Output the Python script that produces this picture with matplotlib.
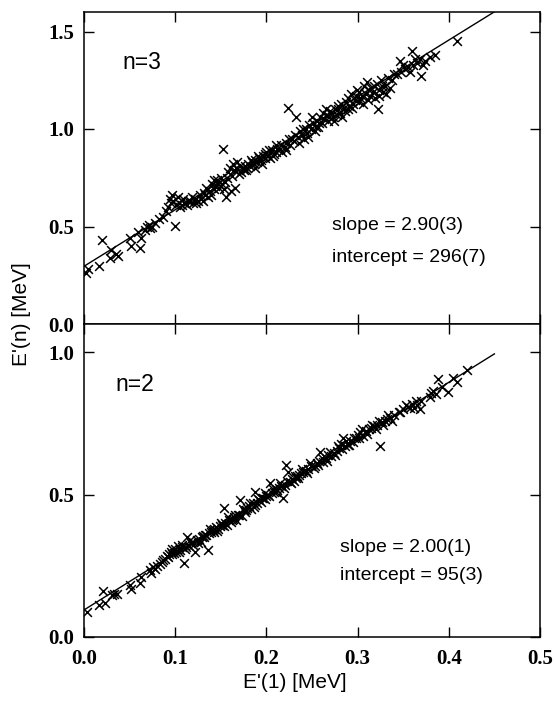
import matplotlib
matplotlib.use("Agg")
import matplotlib.pyplot as plt
import numpy as np

# ---- data ----
top_x = [0.002,0.004,0.016,0.020,0.028,0.030,0.035,0.037,0.050,0.051,0.059,0.061,0.062,0.067,0.069,0.071,0.072,0.075,
         0.078,0.082,0.087,0.090,0.092,0.094,0.095,0.096,0.098,0.100,0.101,0.103,0.105,0.108,0.110,0.113,0.116,0.119,
         0.122,0.125,0.127,0.130,0.132,0.134,0.136,0.138,0.140,0.142,0.144,0.146,0.148,0.150,0.152,0.153,0.155,0.156,
         0.158,0.160,0.161,0.163,0.165,0.166,0.168,0.170,0.172,0.174,0.176,0.178,0.180,0.182,0.184,0.186,0.188,0.190,
         0.192,0.194,0.196,0.198,0.200,0.202,0.204,0.206,0.208,0.210,0.212,0.215,0.217,0.220,0.222,0.224,0.226,0.228,
         0.230,0.233,0.235,0.237,0.239,0.241,0.243,0.245,0.247,0.249,0.251,0.253,0.255,0.257,0.259,0.261,0.263,0.265,
         0.267,0.269,0.271,0.273,0.275,0.277,0.279,0.281,0.283,0.285,0.287,0.289,0.291,0.293,0.295,0.297,0.299,0.301,
         0.303,0.305,0.307,0.309,0.311,0.313,0.315,0.317,0.319,0.321,0.322,0.324,0.326,0.328,0.330,0.333,0.336,0.340,
         0.346,0.348,0.352,0.355,0.360,0.361,0.365,0.368,0.370,0.374,0.379,0.409,
         0.104,0.109,0.114,0.118,0.123,0.128,0.133,0.139,0.143,0.147,0.151,0.157,0.162,0.167,0.171,0.175,0.179,0.183,
         0.187,0.191,0.195,0.199,0.203,0.207,0.211,0.216,0.221,0.225,0.231,0.236,0.240,0.246,0.250,0.254,0.258,0.262,
         0.266,0.270,0.274,0.278,0.282,0.286,0.290,0.294,0.298,0.302,0.306,0.310,0.314,0.318,0.323,0.327,0.331,0.338,
         0.343,0.350,0.357,0.363,0.372,0.385]
top_y = [0.26,0.28,0.30,0.43,0.34,0.38,0.36,0.35,0.44,0.40,0.47,0.39,0.44,0.48,0.50,0.51,0.49,0.50,
         0.52,0.54,0.55,0.58,0.60,0.64,0.62,0.66,0.63,0.505,0.61,0.65,0.60,0.61,0.62,0.61,0.63,0.62,
         0.64,0.63,0.66,0.63,0.67,0.70,0.65,0.68,0.72,0.69,0.71,0.74,0.70,0.75,0.90,0.69,0.73,0.65,
         0.78,0.80,0.68,0.82,0.79,0.70,0.83,0.77,0.78,0.80,0.81,0.79,0.82,0.81,0.83,0.82,0.84,0.83,
         0.85,0.84,0.86,0.85,0.88,0.86,0.85,0.89,0.87,0.88,0.90,0.90,0.88,0.91,0.93,1.11,0.92,0.95,
         0.94,1.06,0.96,0.99,0.97,0.95,1.00,0.98,1.02,1.00,1.03,0.99,1.04,1.01,1.06,1.03,1.05,1.10,
         1.04,1.06,1.08,1.06,1.10,1.07,1.12,1.08,1.06,1.11,1.14,1.10,1.12,1.18,1.13,1.15,1.20,1.14,
         1.16,1.17,1.22,1.18,1.15,1.20,1.21,1.19,1.16,1.23,1.10,1.17,1.25,1.19,1.22,1.26,1.21,1.28,
         1.35,1.29,1.31,1.32,1.40,1.33,1.34,1.36,1.27,1.35,1.37,1.45,
         0.62,0.64,0.63,0.65,0.62,0.64,0.66,0.66,0.74,0.72,0.72,0.75,0.76,0.80,0.81,0.79,0.80,0.84,
         0.80,0.86,0.82,0.87,0.89,0.86,0.92,0.92,0.89,0.95,0.97,0.93,1.00,0.96,1.06,1.01,1.03,1.08,
         1.07,1.09,1.04,1.10,1.13,1.09,1.16,1.11,1.17,1.19,1.13,1.24,1.17,1.22,1.20,1.22,1.18,1.25,
         1.28,1.33,1.29,1.36,1.33,1.38]

bot_x = [0.003,0.016,0.021,0.023,0.031,0.033,0.036,0.050,0.052,0.061,0.063,0.072,0.074,0.076,0.078,0.080,0.083,0.087,
         0.089,0.091,0.093,0.095,0.097,0.099,0.101,0.103,0.105,0.107,0.110,0.111,0.113,0.115,0.117,0.119,0.122,0.124,
         0.126,0.128,0.130,0.132,0.134,0.136,0.137,0.139,0.141,0.143,0.145,0.147,0.149,0.151,0.153,0.155,0.157,0.159,
         0.161,0.163,0.165,0.167,0.169,0.171,0.173,0.175,0.177,0.179,0.181,0.183,0.185,0.187,0.188,0.190,0.192,0.194,
         0.196,0.198,0.200,0.202,0.204,0.206,0.208,0.210,0.212,0.214,0.216,0.218,0.220,0.222,0.224,0.226,0.228,0.230,
         0.232,0.234,0.236,0.238,0.240,0.243,0.246,0.249,0.252,0.255,0.258,0.259,0.262,0.265,0.268,0.271,0.274,0.277,
         0.280,0.282,0.284,0.286,0.289,0.292,0.295,0.298,0.300,0.303,0.306,0.309,0.312,0.315,0.318,0.321,0.325,0.327,
         0.330,0.332,0.335,0.338,0.345,0.350,0.355,0.360,0.362,0.365,0.368,0.379,0.383,0.386,0.388,0.399,0.405,0.409,
         0.420,
         0.085,0.092,0.096,0.100,0.104,0.108,0.112,0.116,0.120,0.125,0.129,0.133,0.138,0.142,0.146,0.150,0.154,0.158,
         0.162,0.166,0.170,0.174,0.178,0.182,0.186,0.191,0.195,0.199,0.203,0.207,0.211,0.215,0.219,0.223,0.227,0.231,
         0.235,0.239,0.244,0.248,0.253,0.257,0.261,0.266,0.270,0.275,0.279,0.283,0.287,0.291,0.296,0.301,0.305,0.310,
         0.316,0.320,0.324,0.328,0.333,0.340,0.347,0.353,0.358,0.364,0.370,0.381,0.393]
bot_y = [0.088,0.113,0.160,0.120,0.148,0.150,0.152,0.183,0.170,0.190,0.210,0.236,0.225,0.245,0.240,0.250,0.258,0.270,
         0.275,0.285,0.290,0.300,0.310,0.295,0.300,0.320,0.305,0.315,0.260,0.310,0.350,0.320,0.330,0.325,0.300,0.340,
         0.345,0.335,0.355,0.350,0.360,0.306,0.365,0.370,0.375,0.370,0.385,0.380,0.390,0.395,0.455,0.400,0.395,0.410,
         0.405,0.415,0.420,0.410,0.430,0.480,0.425,0.445,0.440,0.455,0.460,0.450,0.470,0.465,0.510,0.470,0.480,0.475,
         0.490,0.485,0.495,0.500,0.540,0.505,0.510,0.520,0.515,0.525,0.530,0.490,0.535,0.605,0.580,0.545,0.555,0.550,
         0.560,0.565,0.570,0.575,0.580,0.585,0.590,0.600,0.595,0.610,0.620,0.650,0.615,0.630,0.640,0.635,0.645,0.655,
         0.665,0.680,0.700,0.670,0.675,0.690,0.685,0.700,0.710,0.720,0.705,0.725,0.730,0.735,0.740,0.745,0.670,0.755,
         0.760,0.765,0.770,0.760,0.790,0.800,0.810,0.820,0.805,0.815,0.800,0.845,0.865,0.855,0.905,0.860,0.910,0.895,
         0.940,
         0.262,0.280,0.290,0.310,0.300,0.325,0.318,0.340,0.335,0.330,0.350,0.360,0.380,0.380,0.372,0.400,0.390,0.420,
         0.412,0.430,0.428,0.450,0.445,0.470,0.458,0.485,0.490,0.505,0.495,0.520,0.510,0.540,0.525,0.550,0.540,0.565,
         0.560,0.590,0.575,0.610,0.600,0.605,0.630,0.620,0.650,0.640,0.670,0.660,0.690,0.675,0.700,0.700,0.730,0.715,
         0.745,0.730,0.760,0.745,0.780,0.780,0.790,0.815,0.805,0.830,0.830,0.858,0.880]

top_slope, top_intercept = 2.90, 0.296
bot_slope, bot_intercept = 2.00, 0.095
fit_range = [0.0, 0.45]

top_text = ["slope = 2.90(3)", "intercept = 296(7)"]
bot_text = ["slope = 2.00(1)", "intercept = 95(3)"]

# ---- figure ----
W, H = 555, 704
fig = plt.figure(figsize=(W/100, H/100), dpi=100)
L, R = 84/W, 540/W
y_top, y_mid, y_bot = 1-12/H, 1-324/H, 1-637/H
ax1 = fig.add_axes([L, y_mid, R-L, y_top-y_mid])
ax2 = fig.add_axes([L, y_bot, R-L, y_mid-y_bot])

tickfont = dict(family="Liberation Serif", weight="bold", size=15)
sans = "Liberation Sans"

def style(ax, yticks, ylim):
    ax.set_xlim(0, 0.5)
    ax.set_ylim(*ylim)
    ax.set_xticks([0.0, 0.1, 0.2, 0.3, 0.4, 0.5])
    ax.set_yticks(yticks)
    ax.tick_params(direction="in", length=7, width=1.0, top=True, right=True,
                   bottom=True, left=True, pad=7)
    for s in ax.spines.values():
        s.set_linewidth(1.1)
    ax.set_yticklabels([f"{v:.1f}" for v in yticks], fontdict=tickfont)

style(ax1, [0.0, 0.5, 1.0, 1.5], (0, 1.6))
style(ax2, [0.0, 0.5, 1.0], (0, 1.1))
ax1.tick_params(labelbottom=False)
ax2.set_xticklabels([f"{v:.1f}" for v in [0.0, 0.1, 0.2, 0.3, 0.4, 0.5]], fontdict=tickfont)
ax2.tick_params(axis="x", pad=9)

mk = dict(marker="x", s=40, c="black", linewidths=1.1)
ax1.scatter(top_x, top_y, **mk)
ax2.scatter(bot_x, bot_y, **mk)
fx = np.array(fit_range)
ax1.plot(fx, top_intercept + top_slope*fx, color="black", lw=1.0)
ax2.plot(fx, bot_intercept + bot_slope*fx, color="black", lw=1.0)

ax1.text(0.042, 1.34, "n=3", family=sans, fontsize=16.5, va="center")
ax2.text(0.034, 0.887, "n=2", family=sans, fontsize=16.5, va="center")
ax1.text(0.272, (324-225)/196, top_text[0], family=sans, fontsize=14, va="center")
ax1.text(0.272, (324-257)/196, top_text[1], family=sans, fontsize=14, va="center")
ax2.text(0.281, (637-548)/284, bot_text[0], family=sans, fontsize=14, va="center")
ax2.text(0.281, (637-576)/284, bot_text[1], family=sans, fontsize=14, va="center")

fig.text(22/W, 1-314/H, "E'(n) [MeV]", family=sans, fontsize=15, rotation=90,
         ha="center", va="center")
fig.text(295/W, 1-683/H, "E'(1) [MeV]", family=sans, fontsize=15,
         ha="center", va="center")

fig.savefig("out.png", dpi=100)
